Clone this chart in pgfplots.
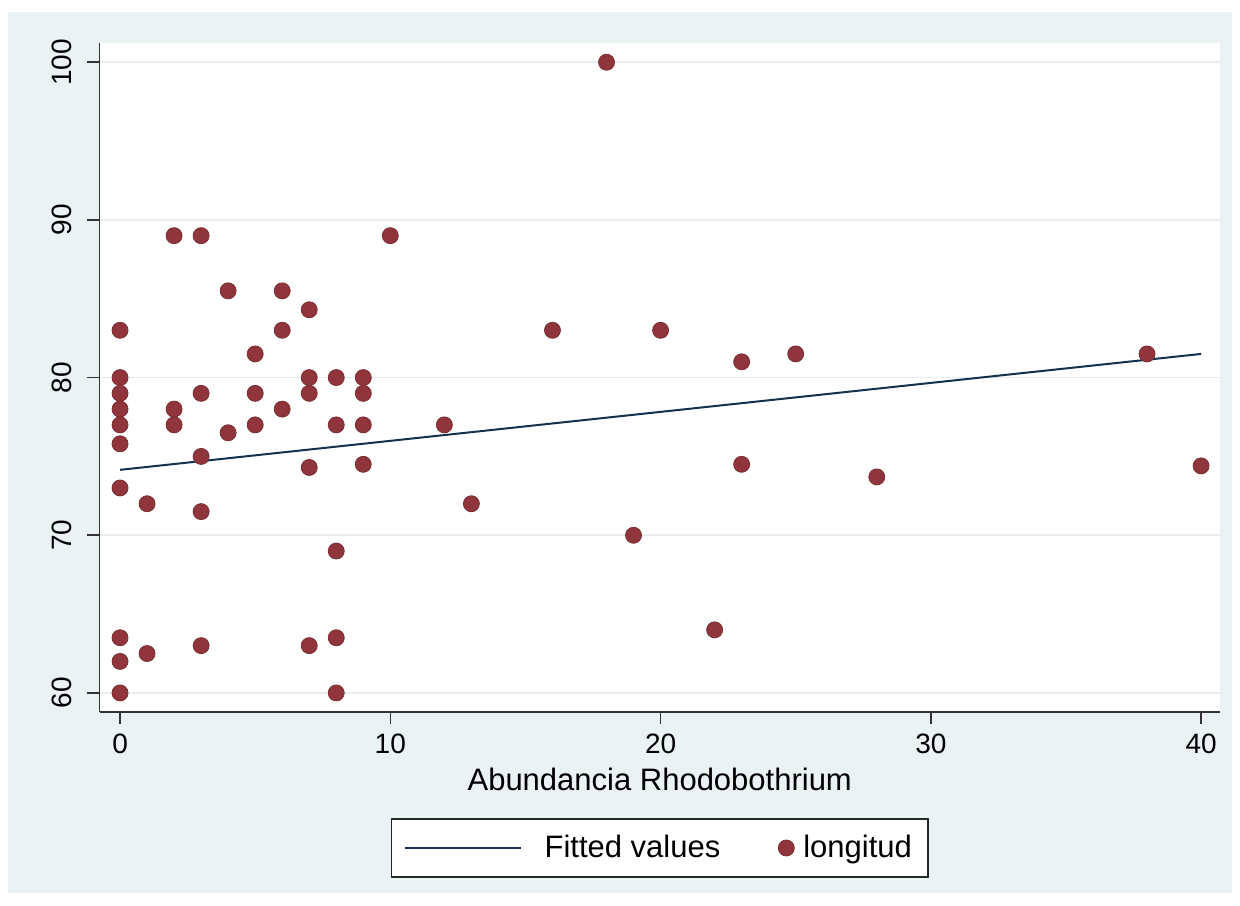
\documentclass[border=0pt]{standalone}
\usepackage{fontspec}
\setmainfont{Liberation Sans}
\usepackage{pgfplots}
\pgfplotsset{compat=1.18}
\definecolor{stbg}{RGB}{234,242,243}
\definecolor{stmaroon}{RGB}{144,53,59}
\definecolor{stnavy}{RGB}{26,71,111}
\definecolor{stgrid}{RGB}{232,238,240}
\pgfplotsset{
  lineleg/.style={legend image code/.code={\draw[##1] (0pt,0pt) -- (58pt,0pt); \path[draw=none,fill=none] (58pt,0pt) -- (68pt,0pt);}},
  dotleg/.style={legend image code/.code={\draw[##1, mark repeat=2, mark phase=2] plot coordinates {(0pt,0pt) (6pt,0pt) (12.5pt,0pt)}; \path[draw=none,fill=none] (0pt,0pt) -- (12.5pt,0pt);}},
}
\begin{document}
\begin{tikzpicture}[x=1pt,y=1pt]
\fill[white] (0,0) rectangle (620,452.5);
\fill[stbg] (4,6) rectangle (616,446.5);
\begin{axis}[
  at={(49.75pt,96.65pt)}, anchor=south west,
  scale only axis, width=560.25pt, height=334.35pt,
  xmin=-0.76, xmax=40.70, ymin=58.81, ymax=101.22,
  axis x line*=bottom, axis y line*=left,
  axis line style={-, black!80, line width=0.8pt},
  axis background/.style={fill=white},
  xtick={0,10,20,30,40}, ytick={60,70,80,90,100},
  tick align=outside, major tick length=6pt,
  tick style={black!80, line width=0.8pt},
  ymajorgrids, grid style={stgrid, line width=0.8pt},
  /pgf/number format/assume math mode=true,
  ticklabel style={font=\fontsize{14}{16}\selectfont},
  xticklabel style={anchor=center, yshift=-10.15pt},
  yticklabel style={rotate=90, anchor=center, yshift=12.9pt},
  xlabel={Abundancia Rhodobothrium},
  xlabel style={font=\fontsize{15.5}{18}\selectfont, at={(0.5,0)}, anchor=center, yshift=-33.65pt},
  legend columns=2,
  reverse legend,
  legend style={at={(0.5,-0.2038)}, anchor=center, draw=black!85, line width=0.8pt, fill=white,
    font=\fontsize{15.5}{18}\selectfont, inner xsep=6pt, inner ysep=6.25pt,
    /tikz/every even column/.append style={column sep=25pt}},
]
\addplot[only marks, mark=*, mark size=4pt, mark options={draw=stmaroon!85!black, fill=stmaroon, line width=0.4pt}, dotleg]
  table {
x y
0 83
0 80
0 79
0 78
0 77
0 75.8
0 73
0 63.5
0 62
0 60
1 72
1 62.5
2 89
2 78
2 77
3 89
3 79
3 75
3 71.5
3 63
4 85.5
4 76.5
5 81.5
5 79
5 77
6 85.5
6 83
6 78
7 84.3
7 80
7 79
7 74.3
7 63
8 80
8 77
8 69
8 63.5
8 60
9 80
9 79
9 77
9 74.5
10 89
12 77
13 72
16 83
18 100
19 70
20 83
22 64
23 81
23 74.5
25 81.5
28 73.7
38 81.5
40 74.4
};
\addlegendentry{longitud}
\addplot[stnavy!70!black, line width=1pt, lineleg]
  coordinates {(0,74.15) (40,81.5)};
\addlegendentry{Fitted values}
\end{axis}
\end{tikzpicture}
\end{document}
